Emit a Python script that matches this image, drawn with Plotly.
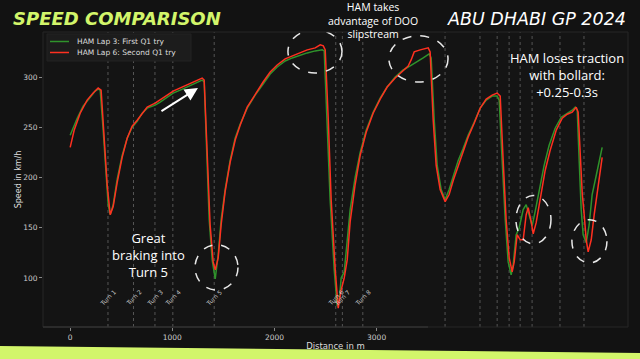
import plotly.graph_objects as go

# ---- data ----
lap3_dist = [0, 69, 127, 196, 245, 274, 294, 323, 352, 372, 392, 421, 460, 509, 558, 607, 656, 705, 754, 832,
             881, 950, 1008, 1077, 1145, 1224, 1292, 1312, 1331, 1361, 1390, 1420, 1449, 1478, 1517, 1566, 1615,
             1664, 1733, 1811, 1889, 1958, 2027, 2105, 2174, 2252, 2321, 2399, 2468, 2487, 2517, 2545, 2585, 2614,
             2634, 2653, 2683, 2712, 2741, 2790, 2839, 2898, 2966, 3035, 3103, 3182, 3260, 3329, 3397, 3456, 3515,
             3534, 3564, 3593, 3632, 3671, 3710, 3750, 3799, 3848, 3896, 3955, 4014, 4073, 4131, 4180, 4200, 4229,
             4259, 4288, 4317, 4337, 4366, 4396, 4435, 4464, 4494, 4523, 4552, 4592, 4640, 4689, 4748, 4807, 4866,
             4915, 4944, 4964, 4983, 5003, 5022, 5052, 5081, 5110, 5150, 5208]
lap3_speed = [242, 259, 271, 280, 286, 288, 287, 247, 198, 173, 163, 173, 198, 222, 239, 250, 256, 264, 269, 272,
              275, 280, 284, 287, 290, 294, 297, 295, 237, 158, 118, 99, 123, 158, 188, 217, 239,
              253, 269, 282, 293, 303, 310, 316, 319, 322, 324, 326, 327, 326, 257, 178, 108, 72,
              78, 100, 106, 138, 168, 200, 225, 247, 265, 279, 290, 300, 307, 311, 315, 319, 323,
              319, 257, 212, 188, 178, 188, 202, 217, 229, 242, 255, 269, 277, 281, 281, 277, 217,
              158, 116, 103, 113, 143, 150, 168, 173, 163, 152, 166, 188, 212, 232, 249, 260, 264,
              267, 270, 267, 217, 168, 143, 135, 153, 183, 202, 230]

lap6_dist = [0, 39, 98, 166, 225, 274, 303, 333, 362, 392, 421, 460, 509, 558, 607, 656, 705, 754, 832, 881,
             950, 1008, 1077, 1145, 1224, 1292, 1312, 1341, 1370, 1400, 1420, 1449, 1478, 1517, 1566, 1615, 1664,
             1733, 1811, 1889, 1958, 2027, 2105, 2174, 2252, 2321, 2399, 2448, 2478, 2497, 2527, 2555, 2595, 2624,
             2653, 2683, 2712, 2741, 2790, 2839, 2898, 2966, 3035, 3103, 3182, 3260, 3309, 3338, 3368, 3427, 3476,
             3505, 3524, 3554, 3583, 3622, 3671, 3710, 3750, 3799, 3848, 3896, 3955, 4014, 4073, 4131, 4180, 4210,
             4239, 4268, 4298, 4327, 4347, 4376, 4406, 4435, 4464, 4484, 4513, 4533, 4562, 4601, 4650, 4699, 4758,
             4817, 4866, 4915, 4954, 4973, 4993, 5013, 5032, 5052, 5071, 5101, 5130, 5169, 5208]
lap6_speed = [230, 247, 264, 277, 284, 289, 287, 242, 193, 163, 171, 195, 220, 239, 251, 257, 264, 270, 274, 277,
              282, 286, 289, 292, 296, 299, 297, 227, 153, 116, 108, 120, 153, 186, 215, 237, 252,
              270, 283, 295, 305, 312, 318, 321, 324, 327, 329, 332, 331, 327, 257, 178, 108, 70,
              88, 100, 118, 156, 193, 222, 245, 264, 278, 290, 299, 307, 311, 317, 325, 327, 328,
              329, 325, 257, 212, 188, 176, 183, 197, 212, 227, 240, 254, 269, 278, 282, 284, 281,
              217, 158, 120, 106, 116, 143, 138, 138, 163, 170, 156, 144, 155, 178, 207, 227, 247,
              259, 263, 265, 270, 265, 217, 184, 163, 138, 126, 138, 163, 193, 220]

series_names = ["HAM Lap 3: First Q1 try", "HAM Lap 6: Second Q1 try"]

turn_dist = [370, 620, 830, 1005, 1410, 2600, 2665, 2865, 3670, 4012, 4180, 4297, 4405, 4522, 4795, 5030]
turn_labels = ["Turn 1", "Turn 2", "Turn 3", "Turn 4", "Turn 5", "Turn 6", "Turn 7", "Turn 8",
               "", "", "", "", "", "", "", ""]

x_ticks = [0, 1000, 2000, 3000]
y_ticks = [100, 150, 200, 250, 300]

GREEN = "#2f932b"
RED = "#ff3020"
LIME = "#d2f56a"
BG = "#121212"

fig = go.Figure()
fig.add_trace(go.Scatter(x=lap3_dist, y=lap3_speed, mode="lines", name=series_names[0],
                         line=dict(color=GREEN, width=1.5)))
fig.add_trace(go.Scatter(x=lap6_dist, y=lap6_speed, mode="lines", name=series_names[1],
                         line=dict(color=RED, width=1.5)))


def px_x(px):
    return (px - 43) / 585.0


def px_y(py):
    return (327 - py) / 295.0


shapes = []
annotations = []
for d, lab in zip(turn_dist, turn_labels):
    shapes.append(dict(type="line", xref="x", yref="paper", x0=d, x1=d, y0=0, y1=1,
                       line=dict(color="#555555", width=1, dash="dot"), layer="below"))
    if lab:
        annotations.append(dict(x=d, y=px_y(310), xref="x", yref="paper", text=lab, showarrow=False,
                                textangle=-45, font=dict(family="DejaVu Sans", size=6, color="#c8c8c8")))

# dashed highlight circles
for x0, x1, y0, y1 in [(1222, 1643, 88, 133), (2132, 2661, 304, 347), (3120, 3699, 295, 341),
                       (4364, 4707, 134, 182), (4912, 5255, 115, 158)]:
    shapes.append(dict(type="circle", xref="x", yref="y", x0=x0, x1=x1, y0=y0, y1=y1,
                       line=dict(color="#e8e8e8", width=1.5, dash="dash")))

# plot frame and partial axis line
shapes.append(dict(type="rect", xref="paper", yref="paper", x0=0, x1=1, y0=0, y1=1,
                   line=dict(color="#262626", width=1)))
shapes.append(dict(type="line", xref="paper", yref="paper", x0=0, x1=px_x(428), y0=0, y1=0,
                   line=dict(color="#3a3a3a", width=1)))
# lime strip at bottom
shapes.append(dict(type="path", xref="paper", yref="paper",
                   path="M %.4f,%.4f L %.4f,%.4f L %.4f,%.4f L %.4f,%.4f Z" % (
                       px_x(-2), px_y(346), px_x(642), px_y(353), px_x(642), px_y(362), px_x(-2), px_y(362)),
                   fillcolor=LIME, line=dict(width=0)))

# compact legend box
shapes.append(dict(type="rect", xref="paper", yref="paper", x0=px_x(47), x1=px_x(191), y0=px_y(34), y1=px_y(61),
                   fillcolor="#1c1c1c", line=dict(color="#222222", width=1)))
for yy, col, name in [(41.5, GREEN, series_names[0]), (52.5, RED, series_names[1])]:
    shapes.append(dict(type="line", xref="paper", yref="paper", x0=px_x(50), x1=px_x(69), y0=px_y(yy), y1=px_y(yy),
                       line=dict(color=col, width=1.5)))
    annotations.append(dict(x=px_x(75), y=px_y(yy), xref="paper", yref="paper", xanchor="left", yanchor="middle",
                            text=name, showarrow=False, font=dict(family="DejaVu Sans", size=7.5, color="#dddddd")))

annotations += [
    dict(x=px_x(11), y=px_y(18), xref="paper", yref="paper", xanchor="left", yanchor="middle",
         text="<b><i>SPEED COMPARISON</i></b>", showarrow=False,
         font=dict(family="DejaVu Sans", size=18, color=LIME)),
    dict(x=px_x(628), y=px_y(19), xref="paper", yref="paper", xanchor="right", yanchor="middle",
         text="<i>ABU DHABI GP 2024</i>", showarrow=False,
         font=dict(family="DejaVu Sans", size=17.5, color="#ffffff")),
    dict(x=px_x(373), y=px_y(21), xref="paper", yref="paper", xanchor="center", yanchor="middle",
         text="HAM takes<br>advantage of DOO<br>slipstream", showarrow=False, align="center",
         font=dict(family="Open Sans", size=10.5, color="#ffffff")),
    dict(x=px_x(567), y=px_y(75), xref="paper", yref="paper", xanchor="center", yanchor="middle",
         text="HAM loses traction<br>with bollard:<br>+0.25-0.3s", showarrow=False, align="center",
         font=dict(family="Open Sans", size=13, color="#ffffff")),
    dict(x=px_x(148), y=px_y(255), xref="paper", yref="paper", xanchor="center", yanchor="middle",
         text="Great<br>braking into<br>Turn 5", showarrow=False, align="center",
         font=dict(family="Open Sans", size=13, color="#ffffff")),
    dict(x=1251, y=289, xref="x", yref="y", ax=-38, ay=24, text="", showarrow=True,
         arrowhead=2, arrowsize=1.3, arrowwidth=2, arrowcolor="#ffffff"),
]

fig.update_layout(
    width=640, height=359,
    margin=dict(l=43, r=12, t=32, b=32, autoexpand=False),
    paper_bgcolor=BG, plot_bgcolor="#141414",
    font=dict(family="DejaVu Sans", color="#cccccc", size=8),
    showlegend=False,
    xaxis=dict(range=[-266, 5461], tickvals=x_ticks, showgrid=False, zeroline=False, automargin=False,
               ticks="outside", ticklen=3, tickcolor="#888888", tickfont=dict(size=7.5, color="#cccccc"),
               title=dict(text="Distance in m", font=dict(size=8.5, color="#dddddd"), standoff=2),
               showline=False),
    yaxis=dict(range=[51.2, 344.8], tickvals=y_ticks, showgrid=False, zeroline=False, automargin=False,
               ticks="outside", ticklen=3, tickcolor="#888888", tickfont=dict(size=7.5, color="#cccccc"),
               title=dict(text="Speed in km/h", font=dict(size=8, color="#dddddd"), standoff=0),
               showline=False),
    shapes=shapes,
    annotations=annotations,
)

fig.write_html("out.html", config={"displayModeBar": False})
with open("out.html", "r", encoding="utf-8") as f:
    html = f.read()
html = html.replace("<body>", '<body style="margin:0;padding:0;background:#121212;overflow:hidden">', 1)
with open("out.html", "w", encoding="utf-8") as f:
    f.write(html)
